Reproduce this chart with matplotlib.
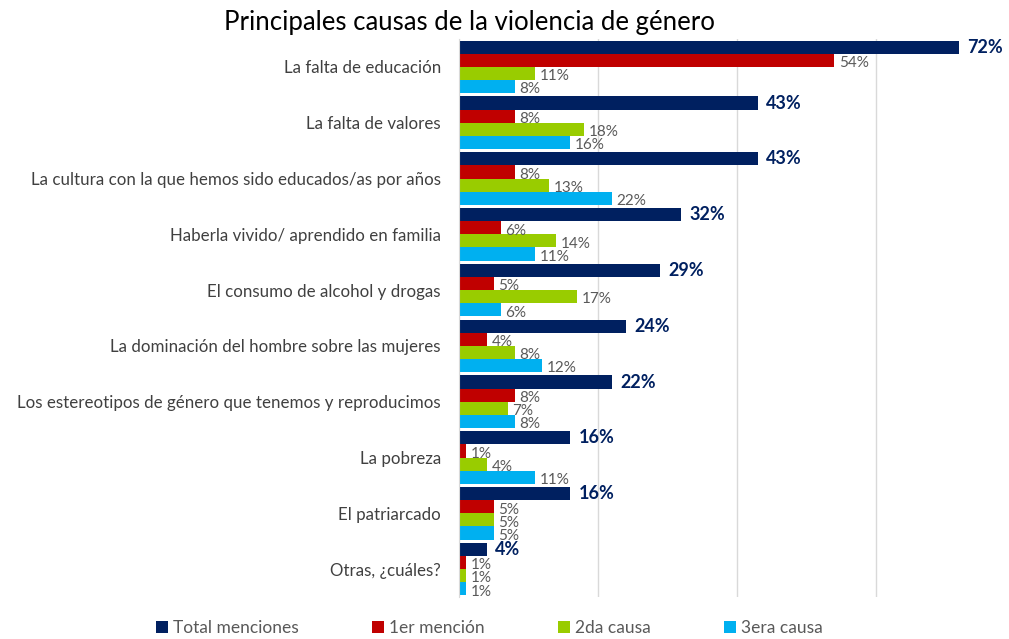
import numpy as np
import matplotlib
matplotlib.use("Agg")
from matplotlib import pyplot as plt

# datos
categorias = [
    "La falta de educación",
    "La falta de valores",
    "La cultura con la que hemos sido educados/as por años",
    "Haberla vivido/ aprendido en familia",
    "El consumo de alcohol y drogas",
    "La dominación del hombre sobre las mujeres",
    "Los estereotipos de género que tenemos y reproducimos",
    "La pobreza",
    "El patriarcado",
    "Otras, ¿cuáles?",
]
total_menciones = [72, 43, 43, 32, 29, 24, 22, 16, 16, 4]
primer_mencion = [54, 8, 8, 6, 5, 4, 8, 1, 5, 1]
segunda_causa = [11, 18, 13, 14, 17, 8, 7, 4, 5, 1]
tercera_causa = [8, 16, 22, 11, 6, 12, 8, 11, 5, 1]

series = [
    ("Total menciones", total_menciones, "#002060"),
    ("1er mención", primer_mencion, "#C00000"),
    ("2da causa", segunda_causa, "#99CC00"),
    ("3era causa", tercera_causa, "#00B0F0"),
]

plt.rcParams['font.family'] = ['Lato', 'DejaVu Sans']

fig = plt.figure(figsize=(10.09, 6.39), dpi=100)
ax = fig.add_axes([459 / 1009, 1 - 597 / 639, 545 / 1009, 558 / 639])

n = len(categorias)
y = np.arange(n)
h = 0.235
for i, (nombre, vals, color) in enumerate(series):
    pos = y + (i - 1.5) * h
    bars = ax.barh(pos, np.array(vals) / 100, height=h, color=color, label=nombre)
    for b, v in zip(bars, vals):
        if i == 0:
            ax.text(b.get_width() + 0.012, b.get_y() + h / 2, f"{v}%",
                    va="center", ha="left", fontsize=13, fontweight="bold",
                    color="#002060")
        else:
            ax.text(b.get_width() + 0.007, b.get_y() + h / 2 + 0.05, f"{v}%",
                    va="center", ha="left", fontsize=11, color="#595959")

ax.set_ylim(n - 0.5, -0.5)
ax.set_xlim(0, 0.785)
ax.set_yticks(y)
ax.set_yticklabels(categorias, fontsize=12.2, color="#404040")
ax.set_xticks([0, 0.2, 0.4, 0.6])
ax.tick_params(axis="x", length=0, labelbottom=False)
ax.tick_params(axis="y", length=0, pad=13)
ax.grid(axis="x", color="#D9D9D9", linewidth=1)
ax.set_axisbelow(True)
for s in ["top", "right", "bottom"]:
    ax.spines[s].set_visible(False)
ax.spines["left"].set_color("#D9D9D9")

fig.text(0.465, 0.965, "Principales causas de la violencia de género",
         ha="center", va="center", fontsize=18.5, color="black")

fig.legend(loc="center", bbox_to_anchor=(0.485, 0.017), ncol=4, frameon=False,
           fontsize=12.5, handlelength=0.7, handleheight=0.7, handletextpad=0.3,
           columnspacing=4.2, labelcolor="#595959")

fig.savefig("out.png", dpi=100)
